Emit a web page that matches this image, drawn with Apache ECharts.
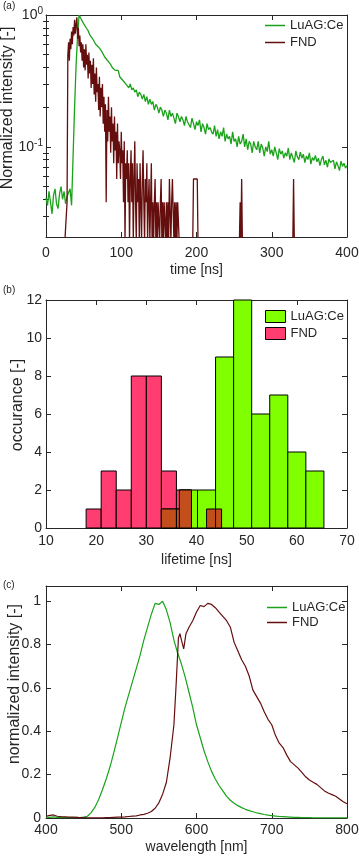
<!DOCTYPE html>
<html>
<head>
<meta charset="utf-8">
<script src="https://cdn.jsdelivr.net/npm/echarts@6/dist/echarts.min.js"></script>
<style>
  html, body { margin: 0; padding: 0; background: #fff; }
  #main { width: 359px; height: 861px; }
</style>
</head>
<body>
<div id="main"></div>
<script>
// ---- (a) decay curves --------------------------------------------------
// LuAG:Ce, sampled every 2 ns from 0 ns
const luagDecayStep = 2;
const luagDecay = [
  0.041, 0.036, 0.046, 0.038, 0.031, 0.043, 0.048, 0.037, 0.034, 0.044,
  0.050, 0.040, 0.046, 0.037, 0.042, 0.045, 0.048, 0.036, 0.085, 0.20,
  0.42, 0.70, 1.0, 0.95, 0.92, 0.86, 0.84, 0.79, 0.76, 0.71,
  0.69, 0.66, 0.65, 0.60, 0.61, 0.57, 0.55, 0.53, 0.52, 0.48,
  0.47, 0.45, 0.46, 0.42, 0.40, 0.41, 0.38, 0.37, 0.38, 0.34,
  0.35, 0.32, 0.33, 0.30, 0.31, 0.28, 0.30, 0.27, 0.28, 0.26,
  0.27, 0.24, 0.26, 0.25, 0.23, 0.25, 0.22, 0.24, 0.21, 0.23,
  0.21, 0.22, 0.19, 0.21, 0.20, 0.18, 0.20, 0.19, 0.17, 0.19,
  0.18, 0.16, 0.19, 0.17, 0.18, 0.165, 0.15, 0.18, 0.17, 0.155,
  0.17, 0.16, 0.145, 0.17, 0.155, 0.16, 0.14, 0.165, 0.15, 0.135,
  0.155, 0.145, 0.16, 0.13, 0.15, 0.14, 0.125, 0.15, 0.135, 0.14,
  0.13, 0.125, 0.145, 0.12, 0.135, 0.115, 0.13, 0.12, 0.14, 0.11,
  0.125, 0.115, 0.12, 0.105, 0.13, 0.11, 0.115, 0.10, 0.12, 0.105,
  0.11, 0.125, 0.10, 0.115, 0.095, 0.11, 0.105, 0.09, 0.11, 0.10,
  0.095, 0.11, 0.09, 0.105, 0.098, 0.085, 0.10, 0.092, 0.11, 0.088,
  0.095, 0.085, 0.10, 0.09, 0.08, 0.097, 0.088, 0.093, 0.082, 0.09,
  0.085, 0.098, 0.08, 0.09, 0.087, 0.076, 0.093, 0.084, 0.08, 0.091,
  0.082, 0.088, 0.076, 0.085, 0.08, 0.09, 0.074, 0.083, 0.079, 0.086,
  0.077, 0.082, 0.072, 0.08, 0.085, 0.073, 0.079, 0.07, 0.081, 0.076,
  0.074, 0.079, 0.068, 0.077, 0.072, 0.066, 0.078, 0.071, 0.075, 0.069,
  0.072
];
// FND, every 1 ns from 25 ns to 180 ns
const fndDecayStart = 25;
const fndDecay = [
  0.019, 0.019, 0.019, 0.038, 0.49,
  0.62, 0.45, 0.66, 0.55, 0.75, 0.6, 0.81, 0.7, 0.92, 0.72,
  0.85, 0.96, 0.66, 0.8, 0.58, 0.7, 0.52, 0.62, 0.45, 0.6,
  0.4, 0.55, 0.38, 0.6, 0.42, 0.5, 0.33, 0.52, 0.36, 0.45,
  0.28, 0.42, 0.3, 0.47, 0.25, 0.36, 0.22, 0.4, 0.26, 0.3,
  0.19, 0.34, 0.17, 0.28, 0.2, 0.3, 0.15, 0.24, 0.13, 0.21,
  0.038, 0.19, 0.11, 0.24, 0.13, 0.17, 0.09, 0.2, 0.11, 0.15,
  0.075, 0.17, 0.094, 0.13, 0.057, 0.15, 0.075, 0.11, 0.094, 0.057,
  0.13, 0.075, 0.094, 0.038, 0.11, 0.019, 0.075, 0.057, 0.094, 0.038,
  0.075, 0.019, 0.057, 0.094, 0.038, 0.075, 0.019, 0.057, 0.11, 0.038,
  0.019, 0.075, 0.038, 0.057, 0.019, 0.075, 0.038, 0.019, 0.057, 0.094,
  0.038, 0.019, 0.057, 0.038, 0.075, 0.019, 0.038, 0.057, 0.019, 0.038,
  0.075, 0.019, 0.038, 0.019, 0.038, 0.057, 0.019, 0.038, 0.019, 0.038,
  0.038, 0.019, 0.038, 0.057, 0.019, 0.038, 0.019, 0.038, 0.038, 0.019,
  0.038, 0.019, 0.038, 0.019, 0.057, 0.057, 0.019, 0.038, 0.057, 0.057,
  0.019, 0.038, 0.019, 0.038, 0.019, 0.038, 0.038, 0.019, 0.019, 0.019, 0.019
];
// sparse FND counts after 180 ns
const fndTailTime  = [195, 196, 201, 202, 257, 258, 259, 260, 261, 328, 329, 330, 400];
const fndTailValue = [0.019, 0.057, 0.057, 0.019, 0.019, 0.038, 0.019, 0.057, 0.019, 0.019, 0.057, 0.019, 0.019];

// ---- (b) lifetime histograms -------------------------------------------
const fndEdges   = [18, 21, 24, 27, 30, 33, 36, 39, 42, 45];
const fndCounts  = [1, 3, 2, 8, 8, 3, 2, 0, 1];
const luagEdges  = [33, 36.6, 40.2, 43.8, 47.4, 51, 54.6, 58.2, 61.8, 65.4];
const luagCounts = [1, 2, 2, 9, 12, 6, 7, 4, 3];

// ---- (c) emission spectra ----------------------------------------------
const luagWlStart = 400;
const luagWlStep = 5;
const luagSpec = [
  0.004, 0.003, 0.005, 0.003, 0.002, 0.003, 0.002, 0.002, 0.003, 0.002,
  0.004, 0.008, 0.025, 0.05, 0.085, 0.13, 0.18, 0.235, 0.30, 0.37,
  0.44, 0.51, 0.57, 0.63, 0.69, 0.75, 0.82, 0.88, 0.94, 0.99,
  0.985, 1.0, 0.96, 0.9, 0.82, 0.76, 0.71, 0.65, 0.58, 0.51,
  0.43, 0.37, 0.31, 0.26, 0.215, 0.18, 0.15, 0.125, 0.1, 0.082,
  0.068, 0.057, 0.048, 0.04, 0.034, 0.029, 0.024, 0.02, 0.016, 0.013,
  0.011, 0.009, 0.007, 0.006, 0.005, 0.004, 0.003, 0.003, 0.002, 0.002,
  0.002, 0.001, 0.001, 0.001, 0.001, 0.001, 0.001, 0.001, 0.001, 0.001,
  0.001
];
const fndSpecWl = [
  400, 405, 410, 415, 420, 425, 430, 435, 440, 445,
  450, 455, 460, 465, 470, 475, 480, 485, 490, 495,
  500, 505, 510, 515, 520, 525, 530, 535, 540, 545,
  550, 555, 560, 565, 570, 573, 576, 578, 580, 583, 586,
  590, 595, 600, 605, 610, 615, 620, 625, 630, 635,
  640, 645, 650, 655, 660, 665, 670, 675, 680, 685,
  690, 695, 700, 705, 710, 715, 720, 725, 730, 735,
  740, 745, 750, 755, 760, 765, 770, 775, 780, 785,
  790, 795, 800
];
const fndSpecVal = [
  0.008, 0.012, 0.014, 0.008, 0.006, 0.005, 0.004, 0.004, 0.003, 0.002,
  0.002, 0.001, 0.001, 0.001, 0.001, 0.001, 0.002, 0.002, 0.003, 0.004,
  0.004, 0.005, 0.007, 0.009, 0.010, 0.014, 0.017, 0.022, 0.030, 0.045,
  0.070, 0.110, 0.165, 0.280, 0.430, 0.620, 0.830, 0.850, 0.820, 0.780, 0.850,
  0.880, 0.910, 0.950, 0.980, 0.975, 0.990, 0.985, 0.970, 0.950, 0.930,
  0.910, 0.880, 0.810, 0.770, 0.730, 0.700, 0.655, 0.590, 0.560, 0.530,
  0.490, 0.455, 0.430, 0.380, 0.345, 0.325, 0.290, 0.260, 0.245, 0.230,
  0.210, 0.190, 0.175, 0.165, 0.155, 0.140, 0.125, 0.115, 0.108, 0.100,
  0.088, 0.075, 0.066
];

// log axis range and minor ticks of (a)
const logMin = 0.0207;
const logMax = 1;
const logMinorTicks = [0.03, 0.04, 0.05, 0.06, 0.07, 0.08, 0.09, 0.2, 0.3, 0.4, 0.5, 0.6, 0.7, 0.8, 0.9];

// ---- build series data ---------------------------------------------------
const luagDecayData = luagDecay.map((v, i) => [i * luagDecayStep, v]);
const fndDecayData = fndDecay.map((v, i) => [fndDecayStart + i, v])
  .concat(fndTailTime.map((t, i) => [t, fndTailValue[i]]));

const fndBins = fndCounts.map((c, i) => [fndEdges[i], fndEdges[i + 1], c]);
const luagBins = luagCounts.map((c, i) => [luagEdges[i], luagEdges[i + 1], c]);
const overlapBins = [];
fndBins.forEach(f => luagBins.forEach(l => {
  const x0 = Math.max(f[0], l[0]), x1 = Math.min(f[1], l[1]);
  const h = Math.min(f[2], l[2]);
  if (x1 > x0 && h > 0) overlapBins.push([x0, x1, h]);
}));

const luagSpecData = luagSpec.map((v, i) => [luagWlStart + i * luagWlStep, v]);
const fndSpecData = fndSpecWl.map((w, i) => [w, fndSpecVal[i]]);

// ---- styling ----------------------------------------------------------------
const FONT = '"Liberation Sans", Arial, Helvetica, sans-serif';
const INK = '#262626';
const GREEN = '#1aa31a';
const MAROON = '#650e0e';
const PINK = '#ff3d70';
const LIME = '#80ff00';
const BROWN = '#c24e1c';

function xAxes(grid, min, max, interval, name, nameGap, margin) {
  return [{
    gridIndex: grid, type: 'value', position: 'bottom', min, max, interval,
    name, nameLocation: 'middle', nameGap,
    nameTextStyle: { fontFamily: FONT, fontSize: 14, color: INK },
    axisLine: { onZero: false, lineStyle: { color: INK, width: 1 } },
    axisTick: { inside: true, length: 5, lineStyle: { color: INK } },
    axisLabel: { margin, fontFamily: FONT, fontSize: 14, color: INK },
    splitLine: { show: false }
  }, {
    gridIndex: grid, type: 'value', position: 'top', min, max, interval,
    axisLine: { onZero: false, lineStyle: { color: INK, width: 1 } },
    axisTick: { inside: true, length: 5, lineStyle: { color: INK } },
    axisLabel: { show: false },
    splitLine: { show: false }
  }];
}

function yAxes(grid, extra, margin, formatter, rich) {
  const left = Object.assign({
    gridIndex: grid, position: 'left',
    axisLine: { onZero: false, lineStyle: { color: INK, width: 1 } },
    axisTick: { inside: true, length: 5, lineStyle: { color: INK } },
    axisLabel: { margin, fontFamily: FONT, fontSize: 14, color: INK, formatter, rich },
    splitLine: { show: false }
  }, extra);
  const right = Object.assign({
    gridIndex: grid, position: 'right',
    axisLine: { onZero: false, lineStyle: { color: INK, width: 1 } },
    axisTick: { inside: true, length: 5, lineStyle: { color: INK } },
    axisLabel: { show: false },
    splitLine: { show: false }
  }, extra);
  return [left, right];
}

function logLabel(v) {
  const e = Math.log10(v);
  const r = Math.round(e);
  if (Math.abs(e - r) > 1e-6) return '';
  return '10{s|' + r + '}';
}
function fifthLabel(v) {
  if (Math.abs(v * 5 - Math.round(v * 5)) > 1e-6) return '';
  return String(+v.toFixed(1));
}

function binRect(fill) {
  return function (params, api) {
    const c = api.value(2);
    if (!c) return null;
    const p0 = api.coord([api.value(0), c]);
    const p1 = api.coord([api.value(1), 0]);
    return {
      type: 'rect',
      shape: { x: p0[0], y: p0[1], width: p1[0] - p0[0], height: p1[1] - p0[1] },
      style: { fill, stroke: '#000', lineWidth: 1 }
    };
  };
}

// minor tick marks of the log axis: an unlabelled axis in decades
const minorLog = pos => ({
  gridIndex: 0, type: 'value', position: pos,
  min: Math.log10(logMin), max: Math.log10(logMax),
  axisLine: { show: false },
  axisTick: { inside: true, length: 3, customValues: logMinorTicks.map(Math.log10), lineStyle: { color: INK } },
  axisLabel: { show: false },
  splitLine: { show: false }
});

const supStyle = { s: { fontSize: 10, fontFamily: FONT, color: INK, padding: [0, 0, 7, 0] } };
const legendText = { fontFamily: FONT, fontSize: 13, color: INK };
const legendName = n => n.split('|')[1];
const lineItem = (name, color) => ({ name, icon: 'rect', itemStyle: { color, borderWidth: 0 } });

const chart = echarts.init(document.getElementById('main'), null, { renderer: 'canvas' });
chart.setOption({
  animation: false,
  backgroundColor: '#fff',
  grid: [
    { left: 46, right: 12, top: 15, height: 222, outerBoundsMode: 'none' },
    { left: 46, right: 12, top: 300, height: 228, outerBoundsMode: 'none' },
    { left: 46, right: 12, top: 586, height: 232, outerBoundsMode: 'none' }
  ],
  xAxis: [].concat(
    xAxes(0, 0, 400, 100, 'time [ns]', 26, 9),
    xAxes(1, 10, 70, 10, 'lifetime [ns]', 25, 6),
    xAxes(2, 400, 800, 100, 'wavelength [nm]', 22, 5)
  ),
  yAxis: [].concat(
    yAxes(0, { type: 'log', logBase: 10, min: logMin, max: logMax }, 3, logLabel, supStyle),
    yAxes(1, { type: 'value', min: 0, max: 12, interval: 2 }, 4),
    yAxes(2, { type: 'value', min: 0, max: 1.07, interval: 0.2 }, 5, fifthLabel),
    [minorLog('left'), minorLog('right')]
  ),
  legend: [
    {
      left: 265, top: 19, orient: 'vertical', padding: 0, itemGap: 4,
      itemWidth: 20, itemHeight: 1.5, selectedMode: false,
      data: [lineItem('a|LuAG:Ce', GREEN), lineItem('a|FND', MAROON)],
      formatter: legendName, textStyle: legendText
    },
    {
      left: 265, top: 310, orient: 'vertical', padding: 0, itemGap: 4,
      itemWidth: 20, itemHeight: 12, selectedMode: false,
      data: [
        { name: 'b|LuAG:Ce', icon: 'rect', itemStyle: { color: LIME, borderColor: '#000', borderWidth: 1 } },
        { name: 'b|FND', icon: 'rect', itemStyle: { color: PINK, borderColor: '#000', borderWidth: 1 } }
      ],
      formatter: legendName, textStyle: legendText
    },
    {
      left: 267, top: 601, orient: 'vertical', padding: 0, itemGap: 2,
      itemWidth: 20, itemHeight: 1.5, selectedMode: false,
      data: [lineItem('c|LuAG:Ce', GREEN), lineItem('c|FND', MAROON)],
      formatter: legendName, textStyle: legendText
    }
  ],
  graphic: [
    { type: 'text', x: 3, y: 1, style: { text: '(a)', font: '10px ' + FONT, fill: INK } },
    { type: 'text', x: 3, y: 285, style: { text: '(b)', font: '10px ' + FONT, fill: INK } },
    { type: 'text', x: 3, y: 580, style: { text: '(c)', font: '10px ' + FONT, fill: INK } },
    { type: 'text', x: 8, y: 108, rotation: Math.PI / 2,
      style: { text: 'Normalized intensity [-]', font: '16px ' + FONT, fill: INK, align: 'center', verticalAlign: 'middle' } },
    { type: 'text', x: 18, y: 405, rotation: Math.PI / 2,
      style: { text: 'occurance [-]', font: '16px ' + FONT, fill: INK, align: 'center', verticalAlign: 'middle' } },
    { type: 'text', x: 15, y: 684, rotation: Math.PI / 2,
      style: { text: 'normalized intensity [-]', font: '16px ' + FONT, fill: INK, align: 'center', verticalAlign: 'middle' } }
  ],
  series: [
    {
      name: 'a|LuAG:Ce', type: 'line', xAxisIndex: 0, yAxisIndex: 0,
      data: luagDecayData, symbol: 'none', showSymbol: false, clip: true,
      lineStyle: { color: GREEN, width: 1.3 }, itemStyle: { color: GREEN }
    },
    {
      name: 'a|FND', type: 'line', xAxisIndex: 0, yAxisIndex: 0,
      data: fndDecayData, symbol: 'none', showSymbol: false, clip: true,
      lineStyle: { color: MAROON, width: 1.3 }, itemStyle: { color: MAROON }
    },
    {
      name: 'b|FND', type: 'custom', xAxisIndex: 2, yAxisIndex: 2,
      data: fndBins, encode: { x: [0, 1], y: 2 }, renderItem: binRect(PINK),
      itemStyle: { color: PINK, borderColor: '#000', borderWidth: 1 }, z: 2
    },
    {
      name: 'b|LuAG:Ce', type: 'custom', xAxisIndex: 2, yAxisIndex: 2,
      data: luagBins, encode: { x: [0, 1], y: 2 }, renderItem: binRect(LIME),
      itemStyle: { color: LIME, borderColor: '#000', borderWidth: 1 }, z: 3
    },
    {
      name: 'b|overlap', type: 'custom', xAxisIndex: 2, yAxisIndex: 2,
      data: overlapBins, encode: { x: [0, 1], y: 2 }, renderItem: binRect(BROWN),
      itemStyle: { color: BROWN }, z: 4
    },
    {
      name: 'c|LuAG:Ce', type: 'line', xAxisIndex: 4, yAxisIndex: 4,
      data: luagSpecData, symbol: 'none', showSymbol: false,
      lineStyle: { color: GREEN, width: 1.2 }, itemStyle: { color: GREEN }
    },
    {
      name: 'c|FND', type: 'line', xAxisIndex: 4, yAxisIndex: 4,
      data: fndSpecData, symbol: 'none', showSymbol: false,
      lineStyle: { color: MAROON, width: 1.2 }, itemStyle: { color: MAROON }
    }
  ]
});

window.addEventListener('resize', () => chart.resize(), false);
</script>
</body>
</html>
